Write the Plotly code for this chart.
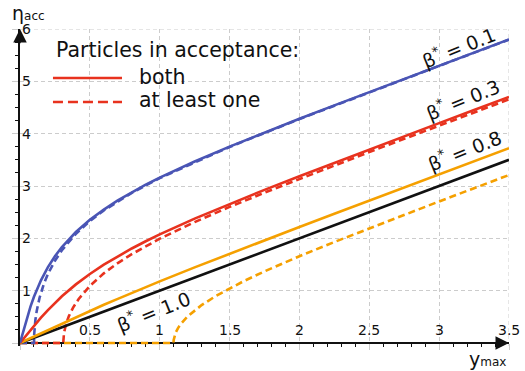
import plotly.graph_objects as go

# ---------------- data ----------------
x_solid = [0, 0.025, 0.05, 0.075, 0.1, 0.125, 0.15, 0.2, 0.25, 0.3, 0.4, 0.5, 0.6, 0.7,
           0.8, 0.9, 1.0, 1.25, 1.5, 1.75, 2.0, 2.25, 2.5, 2.75, 3.0, 3.25, 3.5]
blue_both = [0, 0.248, 0.481, 0.694, 0.883, 1.050, 1.198, 1.450, 1.657, 1.833, 2.120, 2.353,
             2.550, 2.724, 2.880, 3.024, 3.159, 3.468, 3.752, 4.022, 4.284, 4.541, 4.796,
             5.048, 5.300, 5.551, 5.802]
red_both = [0, 0.083, 0.166, 0.248, 0.328, 0.407, 0.483, 0.629, 0.765, 0.892, 1.120, 1.319,
            1.497, 1.658, 1.806, 1.944, 2.075, 2.377, 2.658, 2.926, 3.187, 3.444, 3.698,
            3.950, 4.202, 4.453, 4.703]
orange_both = [0, 0.031, 0.0625, 0.094, 0.125, 0.156, 0.187, 0.249, 0.311, 0.372, 0.493, 0.612,
               0.730, 0.844, 0.957, 1.068, 1.177, 1.445, 1.706, 1.963, 2.217, 2.469, 2.721,
               2.972, 3.222, 3.473, 3.723]
black_both = [0, 0.025, 0.05, 0.075, 0.1, 0.125, 0.15, 0.2, 0.25, 0.3, 0.4, 0.5, 0.6, 0.7,
              0.8, 0.9, 1.0, 1.25, 1.5, 1.75, 2.0, 2.25, 2.5, 2.75, 3.0, 3.25, 3.5]

x_blue_one = [0, 0.1003, 0.102, 0.105, 0.11, 0.12, 0.14, 0.17, 0.2, 0.25, 0.3, 0.4, 0.5, 0.6,
              0.8, 1.0, 1.5, 2.0, 2.5, 3.0, 3.5]
blue_one = [0, 0, 0.182, 0.304, 0.437, 0.618, 0.865, 1.123, 1.319, 1.573, 1.773, 2.086, 2.329,
            2.533, 2.869, 3.150, 3.746, 4.279, 4.791, 5.295, 5.797]

x_red_one = [0, 0.3095, 0.315, 0.32, 0.33, 0.35, 0.38, 0.42, 0.46, 0.5, 0.6, 0.7, 0.8, 0.9,
             1.0, 1.25, 1.5, 1.75, 2.0, 2.25, 2.5, 2.75, 3.0, 3.25, 3.5]
red_one = [0, 0, 0.191, 0.264, 0.368, 0.515, 0.676, 0.841, 0.976, 1.091, 1.331, 1.528, 1.698,
           1.852, 1.993, 2.311, 2.600, 2.873, 3.136, 3.395, 3.649, 3.902, 4.154, 4.405, 4.656]

x_orange_one = [0, 1.0986, 1.1, 1.105, 1.115, 1.13, 1.15, 1.2, 1.25, 1.3, 1.4, 1.5, 1.6, 1.75,
                2.0, 2.25, 2.5, 2.75, 3.0, 3.25, 3.5]
orange_one = [0, 0, 0.059, 0.126, 0.203, 0.281, 0.360, 0.509, 0.625, 0.724, 0.895, 1.045,
              1.181, 1.369, 1.658, 1.930, 2.193, 2.451, 2.705, 2.958, 3.210]

x_ticks = [0.5, 1, 1.5, 2, 2.5, 3, 3.5]
x_tick_labels = ["0.5", "1", "1.5", "2", "2.5", "3", "3.5"]
y_ticks = [1, 2, 3, 4, 5, 6]
y_tick_labels = ["1", "2", "3", "4", "5", "6"]

curve_labels = ["β<sup>*</sup> = 0.1", "β<sup>*</sup> = 0.3", "β<sup>*</sup> = 0.8", "β<sup>*</sup> = 1.0"]
legend_title = "Particles in acceptance:"
legend_items = ["both", "at least one"]

# ---------------- styles ----------------
BLUE = "#4a55b5"
RED = "#e8321e"
ORANGE = "#f5a000"
BLACK = "#111111"
GRID = "#cccccc"
FONT = "DejaVu Sans"
LW = 2.6
DASH = "7px,4px"

fig = go.Figure()

def add(x, y, color, dash=None):
    fig.add_trace(go.Scatter(x=x, y=y, mode="lines", hoverinfo="skip",
                             line=dict(color=color, width=LW, dash=dash)))

add(x_orange_one, orange_one, ORANGE, DASH)
add(x_red_one, red_one, RED, DASH)
add(x_blue_one, blue_one, BLUE, DASH)
add(x_solid, black_both, BLACK)
add(x_solid, orange_both, ORANGE)
add(x_solid, red_both, RED)
add(x_solid, blue_both, BLUE)

ylow = -3 / 52.33
fig.update_layout(
    width=525, height=371,
    margin=dict(l=20, r=16, t=29, b=25),
    plot_bgcolor="white", paper_bgcolor="white",
    showlegend=False,
    font=dict(family=FONT, color=BLACK, size=14),
    xaxis=dict(range=[0, 3.5], tickmode="linear", tick0=0, dtick=0.5, showticklabels=False,
               showgrid=True, gridcolor=GRID, griddash="4px,3px",
               gridwidth=1, showline=True, linecolor=BLACK, linewidth=1.5, zeroline=False,
               layer="below traces",
               ticks="outside", ticklen=6, tickcolor=GRID, tickwidth=1,
               anchor="free", position=(-ylow) / (6 - ylow),
               minor=dict(tickmode="linear", dtick=0.1, tick0=0, ticks="outside", ticklen=3,
                          tickcolor=BLACK, tickwidth=1, showgrid=False)),
    yaxis=dict(range=[ylow, 6], tickmode="linear", tick0=0, dtick=1, showticklabels=False,
               showgrid=True, gridcolor=GRID, griddash="4px,3px",
               gridwidth=1, showline=True, linecolor=BLACK, linewidth=1.5, zeroline=False,
               layer="below traces",
               ticks="outside", ticklen=6, tickcolor=GRID, tickwidth=1,
               minor=dict(tickmode="linear", dtick=0.25, tick0=0, ticks="outside", ticklen=3,
                          tickcolor=BLACK, tickwidth=1, showgrid=False)),
)

# edge grid lines
fig.add_shape(type="line", x0=3.5, x1=3.5, y0=ylow, y1=6, layer="below",
              line=dict(color=GRID, width=1, dash="4px,3px"))
fig.add_shape(type="line", x0=0, x1=3.5, y0=6, y1=6, layer="below",
              line=dict(color=GRID, width=1, dash="4px,3px"))

# tick labels (inside the axes)
for v, t in zip(x_ticks, x_tick_labels):
    fig.add_annotation(x=v, y=0.25, text=t, showarrow=False, xanchor="center",
                       yanchor="middle", font=dict(size=14, family=FONT, color=BLACK))
for v, t in zip(y_ticks, y_tick_labels):
    fig.add_annotation(x=0, y=v, text=t, showarrow=False, xanchor="left", xshift=0,
                       yanchor="middle", font=dict(size=14, family=FONT, color=BLACK))

# axis arrows
fig.add_annotation(x=3.5, y=0, ax=3.3, ay=0, axref="x", ayref="y", text="", showarrow=True,
                   arrowhead=2, arrowsize=1.8, arrowwidth=1.5, arrowcolor=BLACK, standoff=0)
fig.add_annotation(x=0, y=6, ax=0, ay=5.7, axref="x", ayref="y", text="", showarrow=True,
                   arrowhead=2, arrowsize=1.8, arrowwidth=1.5, arrowcolor=BLACK, standoff=0)

# axis titles
fig.add_annotation(xref="paper", yref="paper", x=-10 / 489, y=(346 - 13) / 317,
                   xanchor="left", yanchor="middle", showarrow=False,
                   text="η<span style='font-size:12px'>acc</span>",
                   font=dict(size=19, family=FONT, color=BLACK))
fig.add_annotation(xref="paper", yref="paper", x=(467 - 20) / 489, y=(346 - 359) / 317,
                   xanchor="left", yanchor="middle", showarrow=False,
                   text="y<span style='font-size:12px'>max</span>",
                   font=dict(size=19, family=FONT, color=BLACK))

# curve labels
label_pos = [(3.14, 5.66), (3.17, 4.67), (3.18, 3.69), (0.955, 0.61)]
for (lx, ly), t in zip(label_pos, curve_labels):
    fig.add_annotation(x=lx, y=ly, text=t, showarrow=False, textangle=-22,
                       font=dict(size=19, family=FONT, color=BLACK))

# legend
fig.add_annotation(x=0.245, y=5.60, text=legend_title, showarrow=False, xanchor="left",
                   yanchor="middle", font=dict(size=20.5, family=FONT, color=BLACK))
fig.add_shape(type="line", x0=0.236, x1=0.730, y0=5.064, y1=5.064,
              line=dict(color=RED, width=LW))
fig.add_shape(type="line", x0=0.236, x1=0.730, y0=4.605, y1=4.605,
              line=dict(color=RED, width=LW, dash="10px,5px"))
fig.add_annotation(x=0.837, y=5.08, text=legend_items[0], showarrow=False, xanchor="left",
                   yanchor="middle", font=dict(size=20.5, family=FONT, color=BLACK))
fig.add_annotation(x=0.837, y=4.64, text=legend_items[1], showarrow=False, xanchor="left",
                   yanchor="middle", font=dict(size=20.5, family=FONT, color=BLACK))

fig.write_html("out.html")
